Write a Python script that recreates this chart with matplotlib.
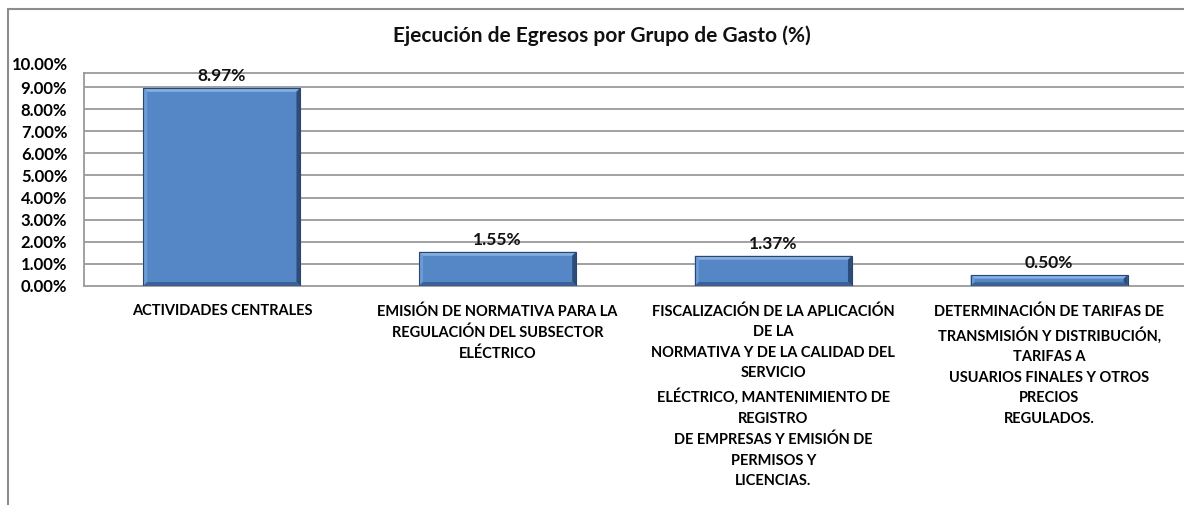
import matplotlib
matplotlib.use("Agg")
import matplotlib.pyplot as plt
from matplotlib.patches import Rectangle, Polygon
from matplotlib.ticker import FuncFormatter
import matplotlib.transforms as mtransforms

categories = [
    "ACTIVIDADES CENTRALES",
    "EMISIÓN DE NORMATIVA PARA LA\nREGULACIÓN DEL SUBSECTOR\nELÉCTRICO",
    "FISCALIZACIÓN DE LA APLICACIÓN\nDE LA\nNORMATIVA Y DE LA CALIDAD DEL\nSERVICIO\nELÉCTRICO, MANTENIMIENTO DE\nREGISTRO\nDE EMPRESAS Y EMISIÓN DE\nPERMISOS Y\nLICENCIAS.",
    "DETERMINACIÓN DE TARIFAS DE\nTRANSMISIÓN Y DISTRIBUCIÓN,\nTARIFAS A\nUSUARIOS FINALES Y OTROS\nPRECIOS\nREGULADOS.",
]
values = [0.0897, 0.0155, 0.0137, 0.0050]
value_labels = ["8.97%", "1.55%", "1.37%", "0.50%"]
yticks = [0.00, 0.01, 0.02, 0.03, 0.04, 0.05, 0.06, 0.07, 0.08, 0.09, 0.10]
title = "Ejecución de Egresos por Grupo de Gasto (%)"

FONT = "Lato"
W, H = 1184, 505
fig = plt.figure(figsize=(W / 100, H / 100), dpi=100)
fig.patch.set_facecolor("white")

# outer chart border
fig.add_artist(Rectangle((7.5 / W, -0.1), 1.2, 1 - 8.5 / H + 0.1,
                         transform=fig.transFigure, fill=False,
                         edgecolor="#8c8c8c", linewidth=1.5))

left, right, top, bottom = 84, 1187, 73, 286
ax = fig.add_axes([left / W, 1 - bottom / H, (right - left) / W, (bottom - top) / H])
ymax_view = (bottom - top) / 2210.0
ax.set_xlim(-0.5, 3.5)
ax.set_ylim(0, ymax_view)

grid_c = "#9a9a9a"
for v in yticks[1:]:
    if v <= ymax_view:
        ax.axhline(v, color=grid_c, linewidth=1.3, zorder=0)

x = list(range(len(values)))
bars = ax.bar(x, values, width=0.57, color="#5587c6", edgecolor="none", zorder=2)

# bevel effect
inv = ax.transData.inverted()
def px_to_data(dx_px, dy_px):
    p0 = inv.transform((0, 0))
    p1 = inv.transform((dx_px, dy_px))
    return p1[0] - p0[0], p1[1] - p0[1]
bx, by = px_to_data(4, 4)
for r in bars:
    x0, y0 = r.get_x(), r.get_y()
    x1, y1 = x0 + r.get_width(), y0 + r.get_height()
    dyy = min(by, (y1 - y0) / 3)
    polys = [
        ([(x0, y1), (x1, y1), (x1 - bx, y1 - dyy), (x0 + bx, y1 - dyy)], "#86b0e2"),
        ([(x0, y0), (x0, y1), (x0 + bx, y1 - dyy), (x0 + bx, y0 + dyy)], "#6c9bd4"),
        ([(x1, y0), (x1, y1), (x1 - bx, y1 - dyy), (x1 - bx, y0 + dyy)], "#2d4d78"),
        ([(x0, y0), (x1, y0), (x1 - bx, y0 + dyy), (x0 + bx, y0 + dyy)], "#3b6196"),
    ]
    for pts, c in polys:
        ax.add_patch(Polygon(pts, closed=True, facecolor=c, edgecolor="none", zorder=3))
    ax.add_patch(Rectangle((x0, y0), x1 - x0, y1 - y0, fill=False,
                           edgecolor="#2a4770", linewidth=0.8, zorder=4))

for xi, v, lab in zip(x, values, value_labels):
    ax.annotate(lab, (xi, v), xytext=(0, 3), textcoords="offset points",
                ha="center", va="bottom", fontsize=12.5, fontweight="bold",
                family=FONT, color="#111111", zorder=5)

TICK_FS = 12
ax.set_yticks([v for v in yticks if v <= ymax_view])
ax.yaxis.set_major_formatter(FuncFormatter(lambda v, p: f"{v*100:.2f}%"))
ax.tick_params(axis="y", length=0, pad=12, labelsize=TICK_FS)
for lab in ax.get_yticklabels():
    lab.set_fontweight("bold"); lab.set_family(FONT)
# top tick label (10.00%) sits above the plot frame
trans = mtransforms.blended_transform_factory(ax.transAxes, ax.transData)
ax.text(-16.5 / (right - left), yticks[-1], f"{yticks[-1]*100:.2f}%", transform=trans,
        ha="right", va="center", fontsize=TICK_FS, fontweight="bold", family=FONT,
        clip_on=False)

ax.set_xticks(x)
ax.set_xticklabels(categories, fontsize=10.5, fontweight="bold", family=FONT,
                   linespacing=1.6, va="top")
ax.tick_params(axis="x", length=0, pad=13)

for s in ["left", "top", "bottom"]:
    ax.spines[s].set_color(grid_c)
    ax.spines[s].set_linewidth(1.3)
ax.spines["right"].set_visible(False)

fig.text(602 / W, 1 - 36 / H, title, ha="center", va="center", fontsize=15,
         fontweight="bold", family=FONT, color="#111111")

fig.savefig("out.png", dpi=100, facecolor="white")
